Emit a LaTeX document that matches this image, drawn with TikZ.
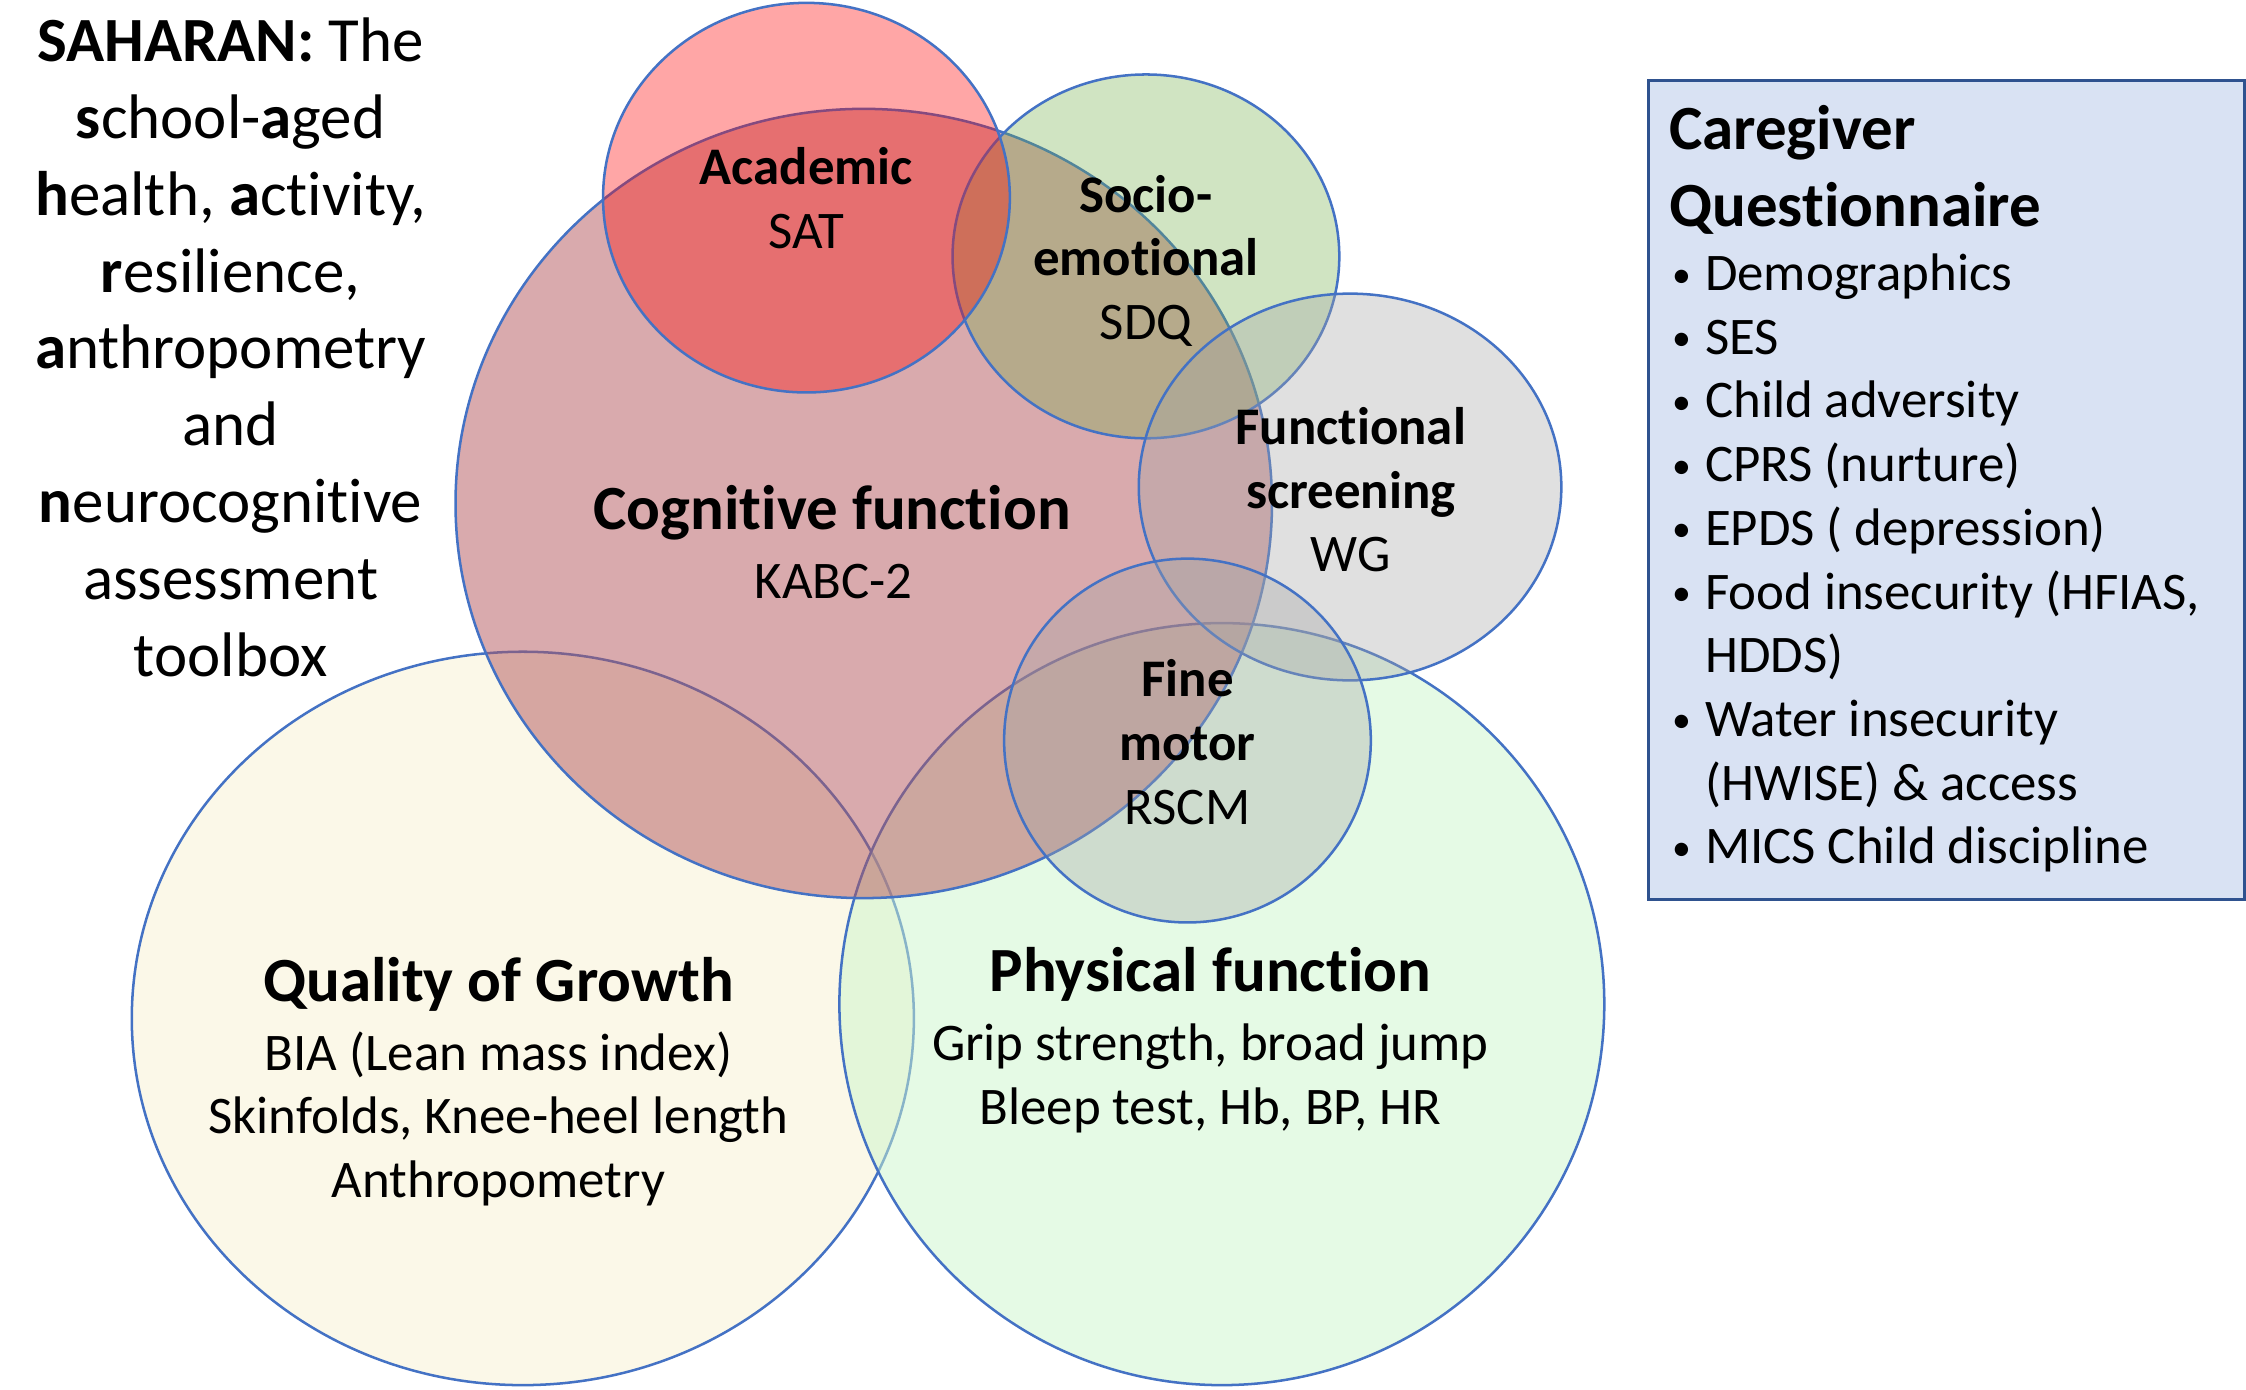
\documentclass[tikz,border=0pt]{standalone}
\usepackage{fontspec}
\setmainfont{Carlito}[Ligatures=NoCommon]
\usepackage{tikz}
\usetikzlibrary{positioning}
\definecolor{outline}{HTML}{4472C4}
\definecolor{cogfill}{RGB}{179,85,91}
\definecolor{acadfill}{HTML}{FF0000}
\definecolor{sociofill}{HTML}{70AD47}
\definecolor{funcfill}{HTML}{A5A5A5}
\definecolor{physfill}{RGB}{204,245,204}
\definecolor{growfill}{RGB}{247,241,209}
\definecolor{boxfill}{HTML}{D9E2F3}
\definecolor{boxline}{HTML}{2F528F}
\newcommand{\qitem}[1]{\strut\makebox[0.5cm][l]{\hspace{0.04cm}\raisebox{0.05cm}{\fontsize{15}{15}\selectfont\textbullet}}#1}
\newcommand{\qmore}[1]{\strut\hspace*{0.5cm}#1}

\begin{document}
\begin{tikzpicture}[
  zone/.style={draw=outline, line width=1pt, fill opacity=0.5},
  head/.style={font=\fontsize{25}{30.5}\selectfont\bfseries, align=center, inner sep=0pt},
  body/.style={font=\fontsize{21}{25.3}\selectfont, align=center, inner sep=0pt},
  side/.style={font=\fontsize{25}{30.5}\selectfont, align=center, inner sep=0pt},
  listtext/.style={font=\fontsize{21}{25.3}\selectfont, align=left, inner sep=0pt}
]
  \useasboundingbox (0,0) rectangle (31.36,19.40);

  \draw[zone, fill=growfill] (7.30,5.18) ellipse [x radius=5.46cm, y radius=5.12cm];
  \draw[zone, fill=physfill] (17.06,5.38) ellipse [x radius=5.34cm, y radius=5.32cm];
  \draw[zone, fill=cogfill] (12.06,12.37) ellipse [x radius=5.70cm, y radius=5.51cm];
  \draw[zone, fill=sociofill, fill opacity=0.33] (16.00,15.82) ellipse [x radius=2.70cm, y radius=2.54cm];
  \draw[zone, fill=acadfill, fill opacity=0.35] (11.26,16.64) ellipse [x radius=2.84cm, y radius=2.72cm];
  \draw[zone, fill=funcfill, fill opacity=0.35] (18.85,12.60) ellipse [x radius=2.95cm, y radius=2.70cm];
  \draw[zone, fill=funcfill, fill opacity=0.35] (16.58,9.06) ellipse [x radius=2.56cm, y radius=2.54cm];

  \node[side] (toolbox) at (3.22,14.55) {\textbf{SAHARAN:} The\\\textbf{s}chool-\textbf{a}ged\\\textbf{h}ealth, \textbf{a}ctivity,\\\textbf{r}esilience,\\\textbf{a}nthropometry\\and\\\textbf{n}eurocognitive\\assessment\\toolbox};

  \node[head] (cogt) at (11.62,12.24) {Cognitive function};
  \node[body] (cogb) at (11.64,11.28) {KABC-2};
  \node[body] (acad) at (11.26,16.63) {\textbf{Academic}\\SAT};
  \node[body] (socio) at (16.00,15.76) {\textbf{Socio-}\\\textbf{emotional}\\SDQ};
  \node[body] (func) at (18.86,12.56) {\textbf{Functional}\\\textbf{screening}\\WG};
  \node[body] (fine) at (16.58,9.04) {\textbf{Fine}\\\textbf{motor}\\RSCM};
  \node[head] (growt) at (6.96,5.66) {Quality of Growth};
  \node[body] (growb) at (6.96,3.78) {BIA (Lean mass index)\\Skinfolds, Knee-heel length\\Anthropometry};
  \node[head] (physt) at (16.90,5.80) {Physical function};
  \node[body] (physb) at (16.90,4.34) {Grip strength, broad jump\\Bleep test, Hb, BP, HR};

  \node[draw=boxline, fill=boxfill, line width=1.2pt, minimum width=8.32cm, minimum height=11.44cm, inner sep=0pt, anchor=north west] (cgbox) at (23.00,18.30) {};
  \node[head, align=left, anchor=north west] (cgtitle) at (23.30,18.07) {\strut Caregiver\\\strut Questionnaire};
  \node[listtext, below=-0.06cm of cgtitle.south west, anchor=north west] (cglist) {\qitem{Demographics}\\\qitem{SES}\\\qitem{Child adversity}\\\qitem{CPRS (nurture)}\\\qitem{EPDS ( depression)}\\\qitem{Food insecurity (HFIAS,}\\\qmore{HDDS)}\\\qitem{Water insecurity}\\\qmore{(HWISE) \& access}\\\qitem{MICS Child discipline}};
\end{tikzpicture}
\end{document}
